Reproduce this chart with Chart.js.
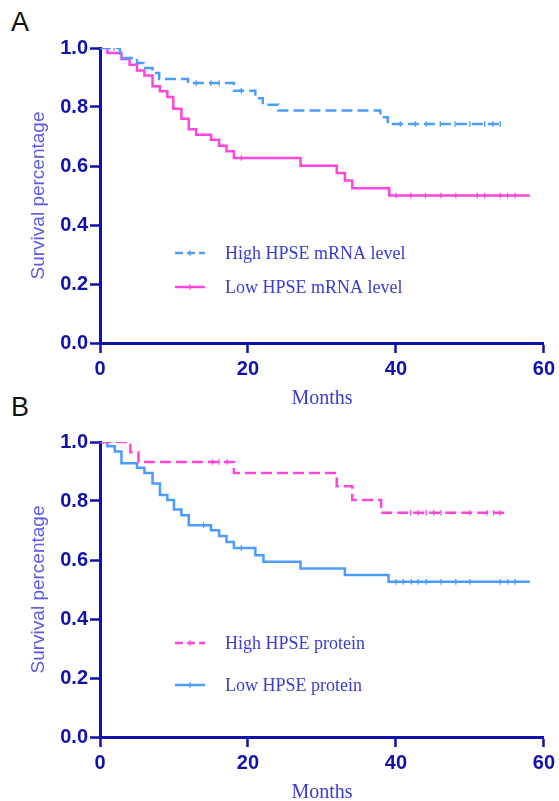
<!DOCTYPE html>
<html>
<head>
<meta charset="utf-8">
<script src="https://cdn.jsdelivr.net/npm/chart.js@4"></script>
<style>
  html, body { margin: 0; padding: 0; background: #fff; overflow: hidden; }
  body { width: 559px; height: 801px; position: relative; }
  .panel { position: absolute; left: 0; width: 559px; }
  .tag { position: absolute; left: 11px; font: 27px "Liberation Sans", Arial, sans-serif; color: #111; }
</style>
</head>
<body>
<div class="tag" style="top:7px">A</div>
<div class="tag" style="top:392px">B</div>
<div class="panel" style="top:0;height:420px"><canvas id="chartA" width="559" height="420"></canvas></div>
<div class="panel" style="top:400px;height:410px"><canvas id="chartB" width="559" height="410"></canvas></div>
<script>
// Panel A - HPSE mRNA
const highMrnaTimes = [0, 2.7, 5.0, 5.9, 7.1, 8.0, 11.9, 18.1, 21.0, 22.0, 24.1, 37.9, 38.9];
const highMrnaSurv = [1.0, 0.966, 0.949, 0.932, 0.915, 0.895, 0.881, 0.855, 0.830, 0.808, 0.788, 0.765, 0.742];
const highMrnaCensor = [1.9, 13.0, 15.0, 16.1, 19.1, 40.6, 42.6, 44.1, 46.0, 48.0, 50.0, 52.0, 53.1, 54.1];
const highMrnaEnd = 54.1;

const lowMrnaTimes = [0, 1.0, 2.9, 4.0, 5.0, 6.0, 7.1, 8.1, 9.1, 9.9, 11.0, 12.0, 13.0, 15.0, 16.1, 17.1, 18.1, 27.1, 32.0, 33.1, 34.1, 39.1];
const lowMrnaSurv = [1.0, 0.983, 0.963, 0.943, 0.924, 0.907, 0.870, 0.853, 0.834, 0.794, 0.760, 0.725, 0.706, 0.689, 0.669, 0.650, 0.627, 0.601, 0.576, 0.551, 0.525, 0.500];
const lowMrnaCensor = [19.1, 40.0, 42.0, 44.0, 46.1, 48.1, 51.0, 52.0, 54.1, 55.1, 56.1];
const lowMrnaEnd = 58.1;

// Panel B - HPSE protein
const highProtTimes = [0, 4.1, 5.2, 18.1, 32.0, 34.1, 38.0];
const highProtSurv = [1.0, 0.965, 0.932, 0.895, 0.850, 0.803, 0.760];
const highProtCensor = [15.2, 16.1, 17.2, 42.0, 43.0, 44.1, 45.1, 46.1, 50.0, 52.3, 53.2, 54.1];
const highProtEnd = 55.0;

const lowProtTimes = [0, 1.0, 2.0, 2.9, 5.0, 6.0, 7.1, 8.1, 9.1, 10.0, 11.0, 12.0, 15.0, 16.1, 17.1, 18.1, 21.0, 22.1, 27.1, 33.1, 39.0];
const lowProtSurv = [1.0, 0.986, 0.968, 0.928, 0.913, 0.895, 0.859, 0.820, 0.803, 0.771, 0.752, 0.718, 0.701, 0.681, 0.661, 0.641, 0.616, 0.594, 0.571, 0.549, 0.526];
const lowProtCensor = [14.0, 19.1, 40.0, 41.0, 42.1, 43.0, 44.1, 46.1, 48.1, 50.0, 54.1, 55.1, 56.1];
const lowProtEnd = 58.1;

const xTicks = [0, 20, 40, 60];
const yTicks = [0.0, 0.2, 0.4, 0.6, 0.8, 1.0];

const PINK = '#ff45dc';
const BLUE = '#4c9cff';
const AXIS = '#1010aa';
const LABEL_BLUE = '#3b3bd2';

// step value of the curve at time t (used to place censor ticks on the curve)
function survAt(times, surv, t) {
    let s = surv[0];
    for (let i = 0; i < times.length; i++) {
        if (times[i] <= t) s = surv[i];
    }
    return s;
}

function kmPoints(times, surv, censor, end) {
    const pts = times.map((t, i) => ({ x: t, y: surv[i], c: false }));
    censor.forEach(t => pts.push({ x: t, y: survAt(times, surv, t), c: true }));
    pts.push({ x: end, y: survAt(times, surv, end), c: false });
    pts.sort((a, b) => a.x - b.x);
    return pts;
}

function kmDataset(label, pts, color, dashed) {
    return {
        label: label,
        data: pts,
        borderColor: color,
        backgroundColor: color,
        borderWidth: 2.5,
        borderDash: dashed ? [11, 5] : [],
        stepped: 'before',
        fill: false,
        pointStyle: 'line',
        rotation: 90,
        pointRadius: ctx => (ctx.raw && ctx.raw.c ? 2.8 : 0),
        pointBorderColor: color,
        pointBorderWidth: 1.3,
        pointHoverRadius: 0
    };
}

// legend drawn inside the plot like the original figure
const kmLegend = {
    id: 'kmLegend',
    afterDatasetsDraw(chart, args, opts) {
        const ctx = chart.ctx;
        const area = chart.chartArea;
        ctx.save();
        chart.data.datasets.forEach((ds, i) => {
            const y = area.top + opts.rows[i];
            const x0 = area.left + 75, x1 = area.left + 105;
            ctx.strokeStyle = ds.borderColor;
            ctx.lineWidth = 2.5;
            ctx.setLineDash(ds.borderDash.length ? [8, 4] : []);
            ctx.beginPath();
            ctx.moveTo(x0, y);
            ctx.lineTo(x1, y);
            ctx.stroke();
            ctx.setLineDash([]);
            ctx.lineWidth = 1.3;
            ctx.beginPath();
            ctx.moveTo((x0 + x1) / 2, y - 2.8);
            ctx.lineTo((x0 + x1) / 2, y + 2.8);
            ctx.stroke();
            ctx.fillStyle = LABEL_BLUE;
            ctx.font = '18px "Liberation Serif", "Times New Roman", serif';
            ctx.textBaseline = 'middle';
            ctx.fillText(ds.label, area.left + 125, y + 1);
        });
        ctx.restore();
    }
};

function makeChart(id, datasets, padding, rows) {
    return new Chart(document.getElementById(id), {
        type: 'line',
        data: { datasets: datasets },
        plugins: [kmLegend],
        options: {
            responsive: false,
            animation: false,
            events: [],
            layout: { padding: padding },
            plugins: {
                legend: { display: false },
                tooltip: { enabled: false },
                kmLegend: { rows: rows }
            },
            scales: {
                x: {
                    type: 'linear',
                    min: 0,
                    max: 60,
                    afterFit: s => { s.height = 68; },
                    afterBuildTicks: s => { s.ticks = xTicks.map(v => ({ value: v })); },
                    border: { display: true, color: AXIS, width: 3 },
                    grid: { drawOnChartArea: false, drawTicks: true, tickLength: 10, tickColor: AXIS, tickWidth: 2.5 },
                    ticks: {
                        color: AXIS,
                        padding: 4,
                        maxRotation: 0,
                        font: { family: '"Liberation Sans", Arial, sans-serif', size: 20, weight: 'bold' }
                    },
                    title: {
                        display: true,
                        text: 'Months',
                        color: LABEL_BLUE,
                        padding: 0,
                        font: { family: '"Liberation Serif", "Times New Roman", serif', size: 20 }
                    }
                },
                y: {
                    min: 0,
                    max: 1,
                    afterFit: s => { s.width = 73; },
                    afterBuildTicks: s => { s.ticks = yTicks.map(v => ({ value: v })); },
                    border: { display: true, color: AXIS, width: 3 },
                    grid: { drawOnChartArea: false, drawTicks: true, tickLength: 10, tickColor: AXIS, tickWidth: 2.5 },
                    ticks: {
                        color: AXIS,
                        padding: 2,
                        callback: v => v.toFixed(1),
                        font: { family: '"Liberation Sans", Arial, sans-serif', size: 20, weight: 'bold' }
                    },
                    title: {
                        display: true,
                        text: 'Survival percentage',
                        color: '#5a5ae4',
                        padding: 0,
                        font: { family: '"Liberation Sans", Arial, sans-serif', size: 19 }
                    }
                }
            }
        }
    });
}

makeChart('chartA', [
    kmDataset('High HPSE mRNA level', kmPoints(highMrnaTimes, highMrnaSurv, highMrnaCensor, highMrnaEnd), BLUE, true),
    kmDataset('Low HPSE mRNA level', kmPoints(lowMrnaTimes, lowMrnaSurv, lowMrnaCensor, lowMrnaEnd), PINK, false)
], { left: 27, right: 15, top: 48, bottom: 9 }, [205, 239]);

makeChart('chartB', [
    kmDataset('High HPSE protein', kmPoints(highProtTimes, highProtSurv, highProtCensor, highProtEnd), PINK, true),
    kmDataset('Low HPSE protein', kmPoints(lowProtTimes, lowProtSurv, lowProtCensor, lowProtEnd), BLUE, false)
], { left: 27, right: 15, top: 42, bottom: 5 }, [201, 243]);
</script>
</body>
</html>
